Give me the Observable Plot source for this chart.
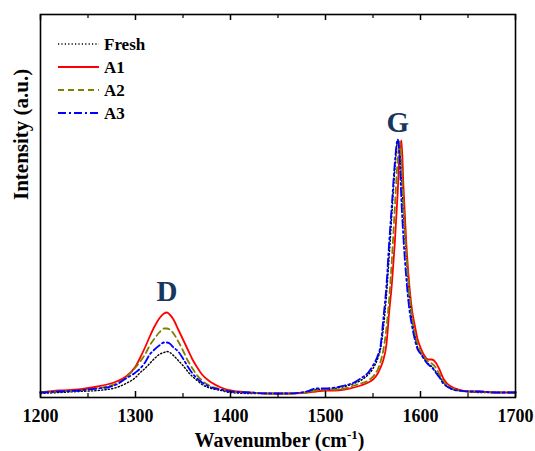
<!DOCTYPE html>
<html><head><meta charset="utf-8">
<script src="https://cdn.jsdelivr.net/npm/d3@7"></script>
<script src="https://cdn.jsdelivr.net/npm/@observablehq/plot@0.6"></script>
<style>body{margin:0;background:#fff;}</style>
</head><body><div id="chart"></div>
<script>
const wavenumbers = [1200,1220,1240,1260,1270,1280,1290,1300,1305,1310,1315,1320,1325,1330,1333,1336,1340,1345,1350,1355,1360,1365,1370,1380,1390,1400,1420,1440,1460,1480,1490,1500,1510,1520,1530,1537,1545,1550,1555,1558,1561,1564,1567,1570,1573,1576,1578,1580,1582,1585,1588,1591,1594,1597,1600,1604,1608,1612,1616,1620,1624,1628,1634,1640,1650,1660,1680,1700];
const fresh = [4,5,6,7,8,10,14,20,25,29,34,39,43,45,46,45,42,37,32,26,21,17,13,9,7,5,4,4,4,5,8,8,9,11,14,17,23,29,39,49,70,100,140,185,228,256,250,220,185,142,104,78,62,50,45,39,34,31,26,21,15,11,8,7,6,5,5,5];
const a1 = [5,7,8,11,13,16,21,31,40,50,61,71,79,84,85,83,78,68,58,48,38,30,23,15,10,7,5,4,4,5,6,7,7,8,10,12,15,18,24,30,38,52,85,115,155,205,245,257,212,155,115,88,72,58,50,42,38,38,35,28,19,14,10,8,6,6,5,5];
const a2 = [5,6,7,9,11,14,20,30,36,43,52,59,65,69,69,68,64,56,47,37,29,22,17,11,8,6,5,4,4,5,7,8,8,9,12,14,17,21,28,36,48,68,98,140,190,238,256,235,195,145,108,82,64,53,46,40,36,34,30,23,16,12,9,7,6,6,5,5];
const a3 = [5,6,7,9,10,13,19,25,29,35,43,48,52,55,55,54,50,46,39,31,24,19,15,10,8,6,5,4,4,6,9,9,10,12,15,19,25,32,42,52,80,110,155,195,235,258,240,195,160,120,90,72,58,48,44,38,33,30,25,20,14,11,8,7,6,6,5,5];

const seriesNames = ["Fresh","A1","A2","A3"];
const seriesColors = ["#000000","#ff0000","#808000","#0000ff"];
const seriesWidths = [1.4, 1.8, 1.8, 1.8];
const seriesDash = ["1.2,2.2", null, "6,4", "8,3,2,3"];
const majorTicks = [1200,1300,1400,1500,1600,1700];
const minorTicks = [1250,1350,1450,1550,1650];
const peakNames = ["D","G"];

const seriesValues = [fresh, a1, a2, a3];
const rows = seriesNames.flatMap((name, i) => wavenumbers.map((w, j) => ({series: name, x: w, y: seriesValues[i][j]})));

const W = 535, H = 451, mL = 40, mR = 20, mT = 14, mB = 54;
const frameH = H - mT - mB;
const font = "'Liberation Serif','Times New Roman',serif";

const drawOrder = ["Fresh","A1","A2","A3"];
const lineMarks = drawOrder.map(name => {
  const i = seriesNames.indexOf(name);
  return Plot.line(rows.filter(d => d.series === name), {
    x: "x", y: "y", stroke: seriesColors[i], strokeWidth: seriesWidths[i],
    strokeDasharray: seriesDash[i], curve: "monotone-x"
  });
});

// peak annotation anchors taken from the data
const dIdx = d3.maxIndex(a1.map((v, j) => wavenumbers[j] < 1450 ? v : -1));
const gIdx = d3.maxIndex(a3);
const peaks = [
  {label: peakNames[0], x: wavenumbers[dIdx], y: a1[dIdx]},
  {label: peakNames[1], x: wavenumbers[gIdx], y: a3[gIdx]}
];

const svg = Plot.plot({
  width: W, height: H,
  marginLeft: mL, marginRight: mR, marginTop: mT, marginBottom: mB,
  style: {fontFamily: font, background: "#fff", color: "#000"},
  x: {domain: [1200, 1700], axis: null},
  y: {domain: [0, 383], axis: null},
  marks: [
    ...lineMarks,
    Plot.ruleX(majorTicks, {x: d => d, insetTop: frameH - 6, stroke: "#000", strokeWidth: 1.5}),
    Plot.ruleX(minorTicks, {x: d => d, insetTop: frameH - 4, stroke: "#000", strokeWidth: 1.2}),
    Plot.ruleX(majorTicks, {x: d => d, insetBottom: frameH - 6, stroke: "#000", strokeWidth: 1.5}),
    Plot.ruleX(minorTicks, {x: d => d, insetBottom: frameH - 4, stroke: "#000", strokeWidth: 1.2}),
    Plot.frame({stroke: "#000", strokeWidth: 1.6}),
    Plot.text(majorTicks, {x: d => d, text: d => String(d), frameAnchor: "bottom", dy: 12, lineAnchor: "top", fontSize: 18, fontWeight: "bold", fontFamily: font, fill: "#000"}),
    Plot.text(peaks.slice(0,1), {x: "x", y: "y", text: "label", dy: -12, lineAnchor: "bottom", fontSize: 29, fontWeight: "bold", fontFamily: font, fill: "#17375e"}),
    Plot.text(peaks.slice(1), {x: "x", y: "y", text: "label", dy: -8, lineAnchor: "bottom", fontSize: 29, fontWeight: "bold", fontFamily: font, fill: "#17375e"}),
    Plot.text(["Intensity (a.u.)"], {frameAnchor: "left", rotate: -90, dx: -19, dy: -6, fontSize: 21, fontWeight: "bold", fontFamily: font, fill: "#000"})
  ]
});

const sel = d3.select(svg);
// x-axis title with superscript
const xt = sel.append("text")
  .attr("x", mL + (W - mL - mR) / 2 + 2).attr("y", 447)
  .attr("text-anchor", "middle")
  .attr("font-family", font).attr("font-size", 20).attr("font-weight", "bold").attr("fill", "#000");
xt.append("tspan").text("Wavenumber (cm");
xt.append("tspan").attr("font-size", 13).attr("dy", -8).text("-1");
xt.append("tspan").attr("dy", 8).text(")");

// legend
const lg = sel.append("g");
seriesNames.forEach((name, i) => {
  const cy = 44 + i * 23;
  lg.append("line").attr("x1", 58).attr("x2", 99).attr("y1", cy).attr("y2", cy)
    .attr("stroke", seriesColors[i]).attr("stroke-width", seriesWidths[i])
    .attr("stroke-dasharray", seriesDash[i]);
  lg.append("text").attr("x", 104).attr("y", cy + 6).text(name)
    .attr("text-anchor", "start")
    .attr("font-family", font).attr("font-size", 17).attr("font-weight", "bold").attr("fill", "#000");
});

document.getElementById("chart").appendChild(svg);
</script>
</body></html>
